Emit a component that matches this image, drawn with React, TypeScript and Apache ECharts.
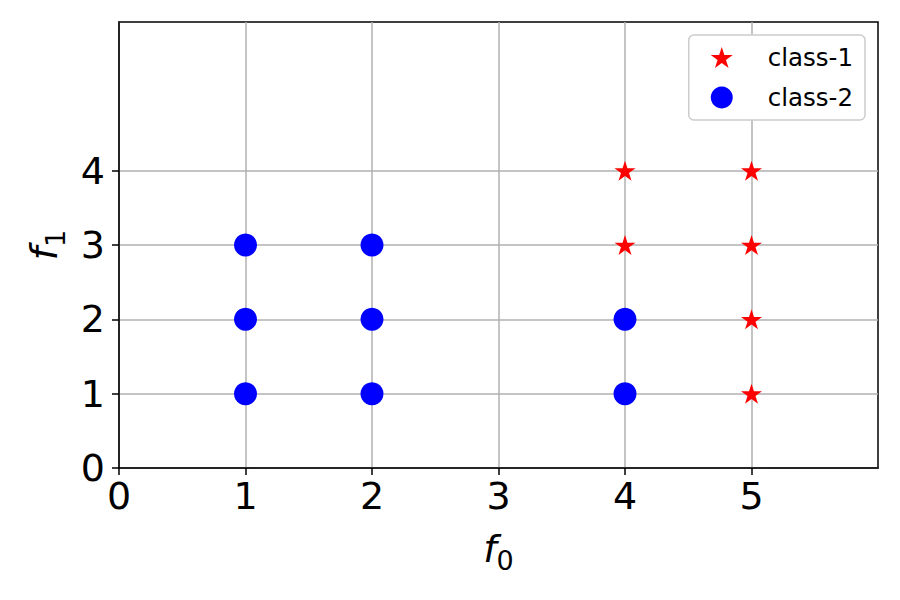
import React, { useEffect, useRef } from "react";
import * as echarts from "echarts";

const class1: [number, number][] = [
  [4, 4], [5, 4], [4, 3], [5, 3], [5, 2], [5, 1],
];
const class2: [number, number][] = [
  [1, 1], [1, 2], [1, 3], [2, 1], [2, 2], [2, 3], [4, 1], [4, 2],
];
const xTicks = [0, 1, 2, 3, 4, 5];
const yTicks = [0, 1, 2, 3, 4];
const seriesNames = ["class-1", "class-2"];

const STAR =
  "path://M50,0L61.23,34.55L97.55,34.55L68.17,55.9L79.39,90.45L50,69.1L20.61,90.45L31.83,55.9L2.45,34.55L38.77,34.55Z";

const FONT = "DejaVu Sans";

export default function App() {
  const ref = useRef<HTMLDivElement>(null);
  useEffect(() => {
    if (!ref.current) return;
    const chart = echarts.init(ref.current, undefined, { renderer: "svg" });
    const axisCommon = {
      type: "value" as const,
      min: 0,
      max: 6,
      interval: 1,
      nameLocation: "middle" as const,
      axisLine: { show: true, lineStyle: { color: "#000", width: 1.5 } },
      axisTick: { show: true, length: 7, inside: false, lineStyle: { color: "#000", width: 1.5 } },
      splitLine: { show: true, lineStyle: { color: "#b0b0b0", width: 1.5 } },
    };
    const nameRich = {
      f: { fontFamily: FONT, fontStyle: "italic", fontSize: 38, color: "#000", padding: [0, 0, 6, 0] },
      s: { fontFamily: FONT, fontSize: 27, color: "#000", verticalAlign: "bottom" },
    };
    chart.setOption({
      animation: false,
      backgroundColor: "#fff",
      grid: {
        left: 119,
        right: 22,
        top: 22,
        bottom: 132,
        show: true,
        borderColor: "#000",
        borderWidth: 1.5,
        backgroundColor: "transparent",
      },
      xAxis: {
        ...axisCommon,
        name: "{f|f}{s|0}",
        nameGap: 62,
        nameTextStyle: { rich: nameRich },
        axisTick: { ...axisCommon.axisTick, customValues: xTicks },
        axisLabel: {
          customValues: xTicks,
          fontFamily: FONT,
          fontSize: 38,
          color: "#000",
          margin: 9,
        },
      },
      yAxis: {
        ...axisCommon,
        name: "{f|f}{s|1}",
        nameGap: 50,
        nameRotate: 90,
        nameTextStyle: { rich: nameRich },
        axisTick: { ...axisCommon.axisTick, customValues: yTicks },
        axisLabel: {
          customValues: yTicks,
          fontFamily: FONT,
          fontSize: 38,
          color: "#000",
          margin: 14,
        },
      },
      legend: {
        orient: "vertical",
        right: 35,
        top: 35,
        data: seriesNames,
        backgroundColor: "#fff",
        borderColor: "#cccccc",
        borderWidth: 1.5,
        borderRadius: 5,
        padding: [10, 12, 10, 22],
        itemGap: 15,
        itemWidth: 22,
        itemHeight: 22,
        textStyle: { fontFamily: FONT, fontSize: 24.5, color: "#000", padding: [0, 0, 0, 30] },
      },
      series: [
        {
          name: seriesNames[0],
          type: "scatter",
          data: class1,
          symbol: STAR,
          symbolSize: [21, 20],
          itemStyle: { color: "#ff0000", opacity: 1 },
          z: 3,
        },
        {
          name: seriesNames[1],
          type: "scatter",
          data: class2,
          symbol: "circle",
          symbolSize: 23,
          itemStyle: { color: "#0000ff", opacity: 1 },
          z: 3,
        },
      ],
    });
    return () => chart.dispose();
  }, []);
  return <div ref={ref} style={{ width: 900, height: 600, position: "absolute", left: 0, top: 0 }} />;
}
